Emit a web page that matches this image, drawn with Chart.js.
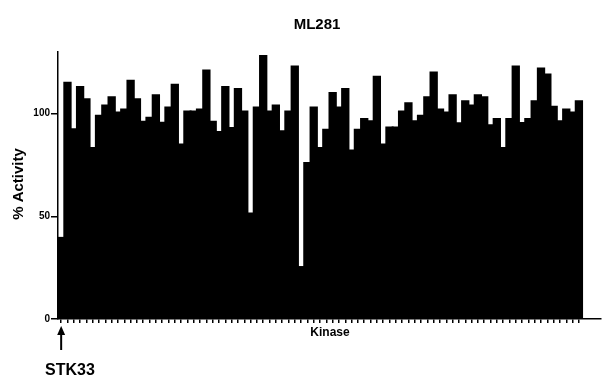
<!DOCTYPE html>
<html>
<head>
<meta charset="utf-8">
<script src="https://cdn.jsdelivr.net/npm/chart.js@4.4.1/dist/chart.umd.min.js"></script>
<style>
  html, body { margin: 0; padding: 0; background: #fff; }
  #wrap { width: 602px; height: 379px; position: relative; }
</style>
</head>
<body>
<div id="wrap"><canvas id="kinaseChart"></canvas></div>
<script>
// % activity of each kinase with ML281 (first bar = STK33)
const activity = [
  39.5, 115, 92.4, 113, 107, 83.3, 99, 104, 108, 100.5,
  102, 116, 107, 96, 98, 109, 95.5, 103, 114, 85,
  101, 101, 102, 121, 96, 91, 113, 93, 112, 101,
  51.4, 103, 128, 101, 104, 91.4, 101, 123, 25.3, 76,
  103, 83.3, 92.2, 110, 103, 112, 82, 92.2, 97.4, 96.3,
  118, 85, 93.2, 93.2, 101, 105, 96.3, 99, 108, 120,
  102, 100.5, 109, 95.3, 106, 104, 109, 108, 94.3, 97.4,
  83.3, 97.4, 123, 95.4, 97.4, 106, 122, 119, 103.4, 96.3,
  102, 100.5, 106
];
const kinases = ["STK33"].concat(activity.slice(1).map((v, k) => "Kinase " + (k + 2)));
const emptySlots = ["", "", ""];   // axis runs on past the last bar
const yTicks = [0, 50, 100];

const labels = kinases.concat(emptySlots);
const values = activity.concat(emptySlots.map(() => null));
const nBars = activity.length;

// titles + STK33 marker drawn by hand
const annot = {
  id: "annot",
  afterDraw(chart) {
    const ctx = chart.ctx;
    const xs = chart.scales.x;
    ctx.save();
    ctx.fillStyle = "#000";
    ctx.strokeStyle = "#000";
    ctx.textAlign = "center";
    ctx.textBaseline = "middle";

    ctx.font = "bold 15px 'Liberation Sans', Arial, sans-serif";
    ctx.fillText("ML281", 317, 25);

    ctx.font = "bold 12px 'Liberation Sans', Arial, sans-serif";
    ctx.fillText("Kinase", 330, 333);

    ctx.save();
    ctx.translate(19, 184);
    ctx.rotate(-Math.PI / 2);
    ctx.font = "bold 15px 'Liberation Sans', Arial, sans-serif";
    ctx.fillText("% Activity", 0, 0);
    ctx.restore();

    // arrow under STK33
    const ax = xs.getPixelForValue(0);
    ctx.lineWidth = 2;
    ctx.beginPath();
    ctx.moveTo(ax, 350);
    ctx.lineTo(ax, 332);
    ctx.stroke();
    ctx.beginPath();
    ctx.moveTo(ax, 326);
    ctx.lineTo(ax - 4, 335);
    ctx.lineTo(ax + 4, 335);
    ctx.closePath();
    ctx.fill();

    ctx.font = "bold 16px 'Liberation Sans', Arial, sans-serif";
    ctx.fillText("STK33", 70, 371);
    ctx.restore();
  }
};

new Chart(document.getElementById("kinaseChart"), {
  type: "bar",
  data: {
    labels: labels,
    datasets: [{
      data: values,
      backgroundColor: "#000",
      borderWidth: 0,
      inflateAmount: 1,
      barPercentage: 1,
      categoryPercentage: 1
    }]
  },
  options: {
    responsive: true,
    maintainAspectRatio: false,
    animation: false,
    layout: { padding: { left: 0, right: 1, top: 52, bottom: 0 } },
    plugins: {
      legend: { display: false },
      tooltip: { enabled: false },
      title: { display: false }
    },
    scales: {
      x: {
        type: "category",
        offset: true,
        border: { display: true, color: "#000", width: 1.5 },
        grid: {
          offset: false,
          drawOnChartArea: false,
          drawTicks: true,
          tickLength: 4,
          lineWidth: 1.5,
          color: (c) => (c.index < nBars ? "#000" : "rgba(0,0,0,0)")
        },
        ticks: { display: false, autoSkip: false },
        afterFit: (s) => { s.height = 60; }
      },
      y: {
        min: 0,
        max: 130,
        border: { display: true, color: "#000", width: 1.5 },
        grid: {
          drawOnChartArea: false,
          drawTicks: true,
          tickLength: 7,
          lineWidth: 1.5,
          color: "#000"
        },
        afterBuildTicks: (s) => { s.ticks = yTicks.map(v => ({ value: v })); },
        ticks: {
          color: "#000",
          padding: 1,
          font: { family: "'Liberation Sans', Arial, sans-serif", size: 10, weight: "bold" }
        },
        afterFit: (s) => { s.width = 58; }
      }
    }
  },
  plugins: [annot]
});
</script>
</body>
</html>
